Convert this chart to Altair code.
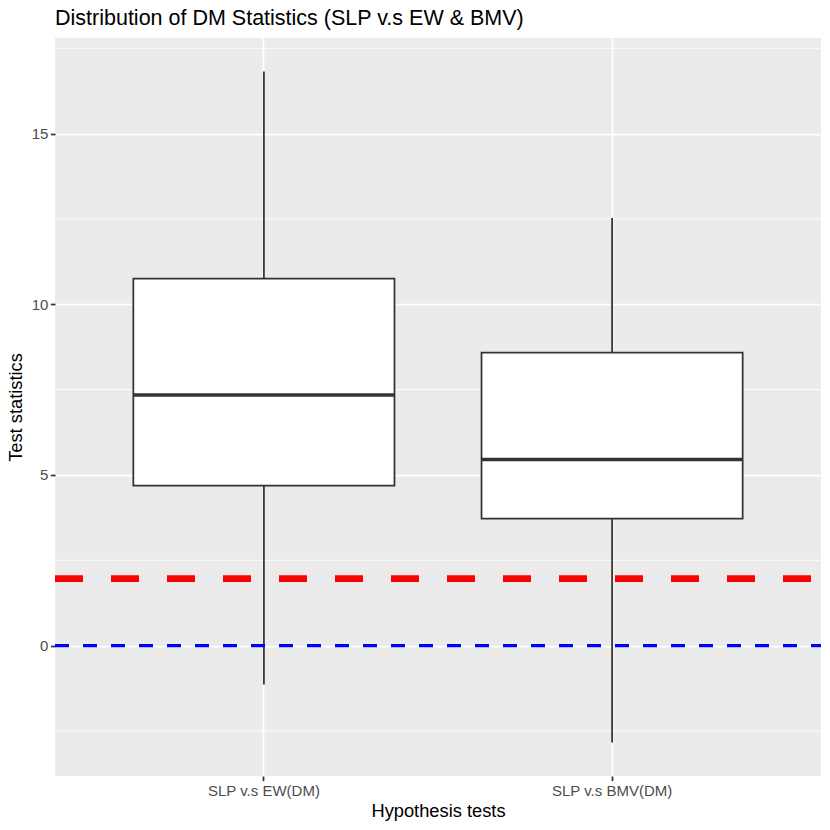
import altair as alt
import pandas as pd

categories = ["SLP v.s EW(DM)", "SLP v.s BMV(DM)"]
lower_whisker = [-1.14, -2.84]
q1 = [4.69, 3.72]
median = [7.34, 5.45]
q3 = [10.75, 8.58]
upper_whisker = [16.82, 12.53]

major_ticks = [0, 5, 10, 15]
minor_ticks = [-2.5, 2.5, 7.5, 12.5, 17.5]
critical_value = [1.96]
zero_line = [0]
y_domain = [-3.82, 17.80]

box_df = pd.DataFrame({
    "test": categories,
    "lo": lower_whisker,
    "q1": q1,
    "med": median,
    "q3": q3,
    "hi": upper_whisker,
})
minor_df = pd.DataFrame({"v": minor_ticks})
red_df = pd.DataFrame({"v": critical_value})
blue_df = pd.DataFrame({"v": zero_line})

FONT = "Liberation Sans"

x_scale = alt.Scale(domain=categories, paddingInner=0.25, paddingOuter=0.225)
y_scale = alt.Scale(domain=y_domain, nice=False, zero=False)

x_axis = alt.Axis(
    title="Hypothesis tests",
    labelAngle=0,
    grid=True, gridColor="white", gridWidth=1.75,
    domain=False,
    tickColor="#333333", tickSize=4.6, tickWidth=1.75,
    labelColor="#4D4D4D", labelFontSize=15, labelFont=FONT, labelPadding=2.5,
    titleFont=FONT, titleFontSize=18.3, titleColor="black", titleFontWeight="normal",
    titlePadding=4,
)
y_axis = alt.Axis(
    title="Test statistics",
    values=major_ticks,
    grid=True, gridColor="white", gridWidth=1.75,
    domain=False,
    tickColor="#333333", tickSize=4.6, tickWidth=1.75,
    labelColor="#4D4D4D", labelFontSize=15, labelFont=FONT, labelPadding=2.5,
    titleFont=FONT, titleFontSize=18.3, titleColor="black", titleFontWeight="normal",
    titlePadding=6,
)

base = alt.Chart(box_df)

minor_grid = alt.Chart(minor_df).mark_rule(color="white", strokeWidth=0.9).encode(
    y=alt.Y("v:Q", scale=y_scale, axis=y_axis)
)

whiskers = base.mark_rule(color="#333333", strokeWidth=1.75).encode(
    x=alt.X("test:N", scale=x_scale, axis=x_axis, sort=categories),
    y=alt.Y("lo:Q", scale=y_scale, axis=y_axis),
    y2="hi:Q",
)

boxes = base.mark_bar(fill="white", stroke="#333333", strokeWidth=1.75).encode(
    x=alt.X("test:N", scale=x_scale, axis=x_axis, sort=categories),
    y=alt.Y("q1:Q", scale=y_scale, axis=y_axis),
    y2="q3:Q",
)

medians = base.mark_bar(fill="transparent", stroke="#333333", strokeWidth=3.4).encode(
    x=alt.X("test:N", scale=x_scale, axis=x_axis, sort=categories),
    y=alt.Y("med:Q", scale=y_scale, axis=y_axis),
    y2="med:Q",
)

red_line = alt.Chart(red_df).mark_rule(
    color="#FF0000", strokeWidth=6.8, strokeDash=[28, 28], strokeDashOffset=46,
    strokeCap="butt"
).encode(y=alt.Y("v:Q", scale=y_scale, axis=y_axis))

blue_line = alt.Chart(blue_df).mark_rule(
    color="#0000FF", strokeWidth=3.4, strokeDash=[14, 14], strokeDashOffset=4,
    strokeCap="butt"
).encode(y=alt.Y("v:Q", scale=y_scale, axis=y_axis))

chart = alt.layer(minor_grid, whiskers, boxes, medians, red_line, blue_line).properties(
    width=766,
    height=738,
    title=alt.TitleParams(
        "Distribution of DM Statistics (SLP v.s EW & BMV)",
        anchor="start", frame="group", font=FONT, fontSize=21.5,
        fontWeight="normal", color="black", offset=8.5,
    ),
    autosize=alt.AutoSizeParams(type="none"),
    padding={"left": 47, "top": 30, "right": 1, "bottom": 46},
).configure(background="white").configure_view(fill="#EBEBEB", strokeWidth=0)

chart.save("out.html", embed_options={"renderer": "svg", "actions": False})
